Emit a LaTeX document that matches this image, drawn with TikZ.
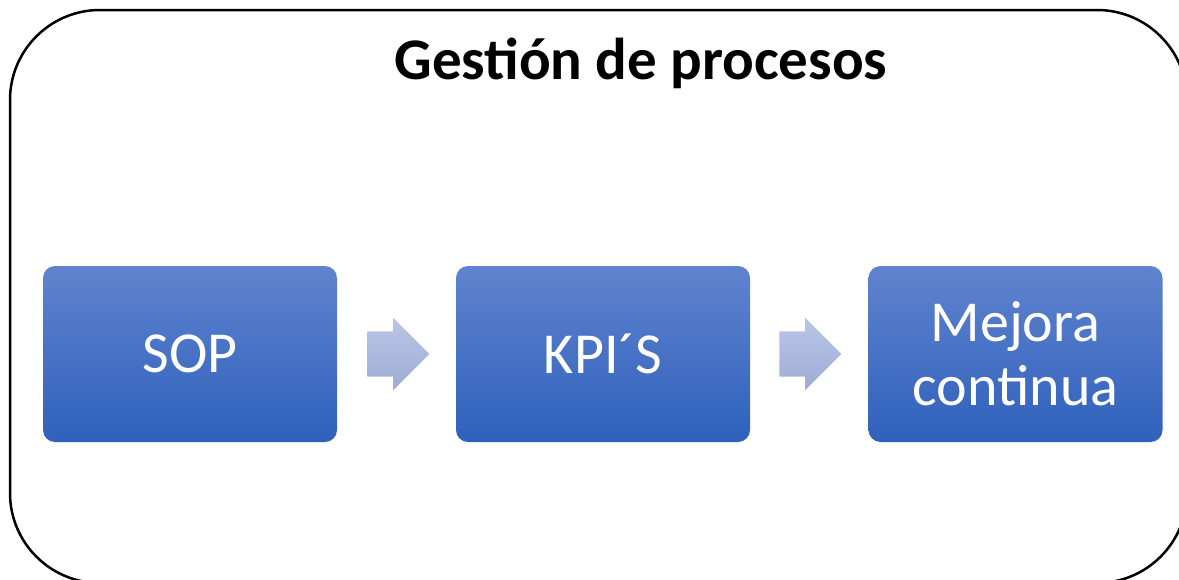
\documentclass[tikz,border=0pt]{standalone}
\usepackage{fontspec}
\setmainfont{Carlito}
\usetikzlibrary{shapes.arrows}
\definecolor{boxtop}{RGB}{96,131,206}
\definecolor{boxbottom}{RGB}{47,97,188}
\definecolor{arrtop}{RGB}{184,197,230}
\definecolor{arrbottom}{RGB}{158,173,214}
\begin{document}
\begin{tikzpicture}[x=1pt,y=1pt,
  paso/.style={rounded corners=12pt,minimum width=294pt,minimum height=176pt,inner sep=0pt,
    top color=boxtop,bottom color=boxbottom,text=white,align=center,
    font=\fontsize{58pt}{64pt}\selectfont},
  flecha/.style={single arrow,single arrow head extend=13.5pt,shape border rotate=0,
    minimum height=62pt,text height=45pt,text depth=0pt,inner sep=0pt,
    top color=arrtop,bottom color=arrbottom}]
\useasboundingbox (0,0) rectangle (1179,-579);
\draw[line width=2.5pt,rounded corners=90pt] (10,-10) rectangle (1187,-583);
\node[anchor=base,font=\bfseries\fontsize{59pt}{64pt}\selectfont] (titulo) at (641,-79) {Gestión de procesos};

\node[paso] (sop) at (190,-354) {SOP};
\node[paso] (kpi) at (603,-354) {KPI´S};
\node[paso] (mejora) at (1015.5,-354) {Mejora\\continua};

\node[flecha] (f1) at (387,-354) {};
\node[flecha] (f2) at (799,-354) {};
\end{tikzpicture}
\end{document}
